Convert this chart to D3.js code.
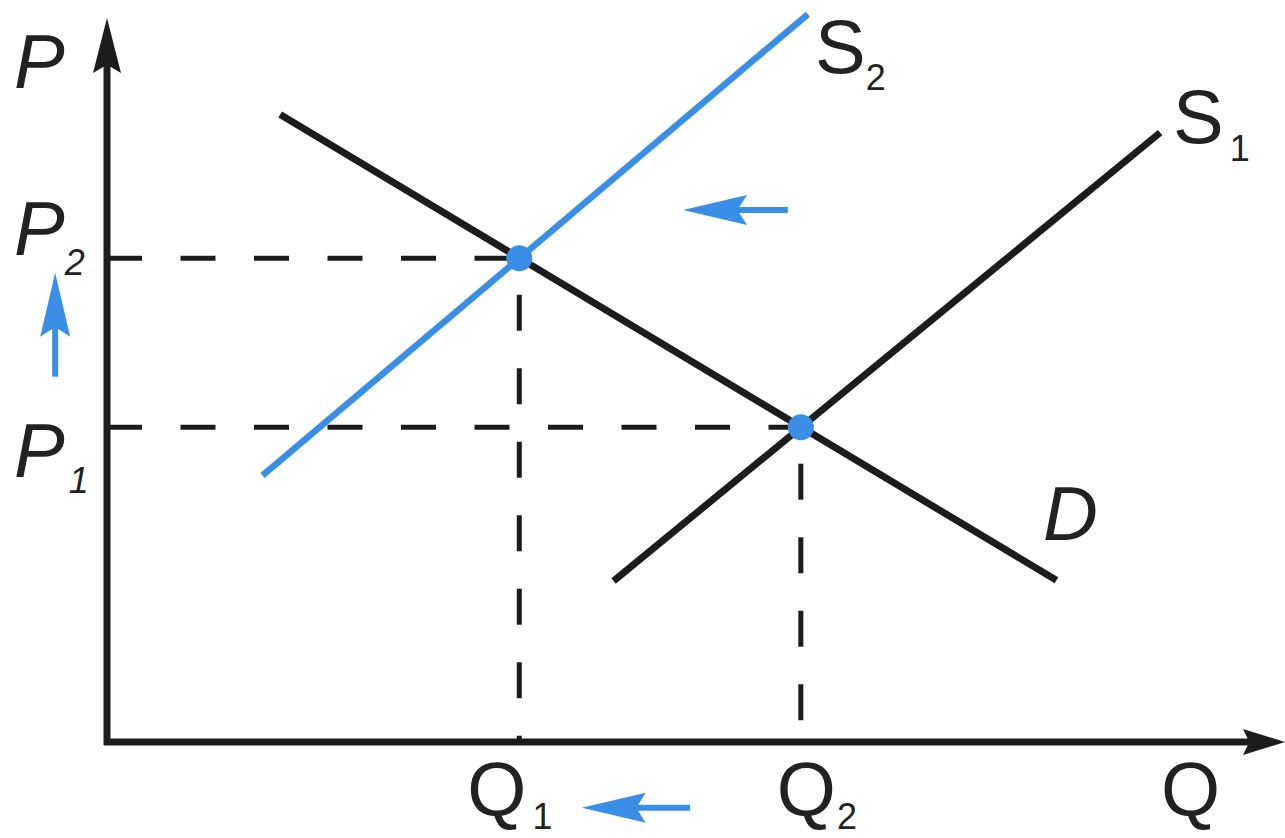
<!DOCTYPE html>
<html>
<head>
<meta charset="utf-8">
<script src="https://cdn.jsdelivr.net/npm/d3@7"></script>
<style>
  html, body { margin: 0; padding: 0; background: #fff; }
  svg { display: block; }
  text { font-family: "Liberation Sans", Arial, sans-serif; fill: #222; }
</style>
</head>
<body>
<div id="chart"></div>
<script>
// axis extents (abstract units 0..100)
const qLevels = { Q1: 35, Q2: 58.9 };
const pLevels = { P1: 43.6, P2: 67 };

// curves: [start, end] in (Q, P) units
const demand = [[14.7, 86.9], [80.6, 22.4]];
const supply1 = [[43, 22.3], [89.4, 84.4]];
const supply2 = [[13.2, 36.9], [59.5, 100.8]];

const equilibria = [[qLevels.Q1, pLevels.P2], [qLevels.Q2, pLevels.P1]];

// shift arrows: [from, to]
const shiftArrows = [
  [[57.8, 73.7], [48.9, 73.7]],   // supply shifts left
  [[49.5, -9.1], [40.3, -9.1]],   // quantity falls
  [[-4.4, 50.6], [-4.4, 65.0]]    // price rises
];

const width = 1285, height = 838;
const origin = { x: 107, y: 742 };

const x = d3.scaleLinear().domain([0, 100]).range([origin.x, 1285]);
const y = d3.scaleLinear().domain([0, 100]).range([origin.y, 20]);

const black = "#1c1c1c";
const blue = "#3b8ee6";

const svg = d3.select("#chart")
  .append("svg")
  .attr("width", width)
  .attr("height", height);

const line = d3.line().x(d => x(d[0])).y(d => y(d[1]));

// dashed guides
const hGuides = [[qLevels.Q1, pLevels.P2], [qLevels.Q2, pLevels.P1]];
svg.append("g")
  .selectAll("line")
  .data(hGuides)
  .join("line")
  .attr("x1", x(0))
  .attr("x2", d => x(d[0]))
  .attr("y1", d => y(d[1]))
  .attr("y2", d => y(d[1]))
  .attr("stroke", black)
  .attr("stroke-width", 5)
  .attr("stroke-dasharray", "35,38.5");

svg.append("g")
  .selectAll("line")
  .data(hGuides)
  .join("line")
  .attr("x1", d => x(d[0]))
  .attr("x2", d => x(d[0]))
  .attr("y1", d => y(d[1]))
  .attr("y2", y(0))
  .attr("stroke", black)
  .attr("stroke-width", 5)
  .attr("stroke-dasharray", "36,37.5")
  .attr("stroke-dashoffset", 37);

// arrow head shape with a slightly notched back
const arrowHead = (tip, dir, len, half) => {
  const [tx, ty] = tip;
  const [dx, dy] = dir;
  const px = -dy, py = dx;
  const p = d3.path();
  p.moveTo(tx, ty);
  p.lineTo(tx - dx * len + px * half, ty - dy * len + py * half);
  p.lineTo(tx - dx * len * 0.85, ty - dy * len * 0.85);
  p.lineTo(tx - dx * len - px * half, ty - dy * len - py * half);
  p.closePath();
  return p.toString();
};

// axes
svg.append("line")
  .attr("x1", x(0)).attr("y1", y(0) + 3)
  .attr("x2", x(0)).attr("y2", 40)
  .attr("stroke", black).attr("stroke-width", 7);
svg.append("path")
  .attr("d", arrowHead([x(0), 18], [0, -1], 55, 14))
  .attr("fill", black);

svg.append("line")
  .attr("x1", x(0) - 3).attr("y1", y(0))
  .attr("x2", 1260).attr("y2", y(0))
  .attr("stroke", black).attr("stroke-width", 7);
svg.append("path")
  .attr("d", arrowHead([1285, y(0)], [1, 0], 42, 13))
  .attr("fill", black);

// curves
svg.append("path").attr("d", line(demand))
  .attr("stroke", black).attr("stroke-width", 7).attr("fill", "none");
svg.append("path").attr("d", line(supply1))
  .attr("stroke", black).attr("stroke-width", 7).attr("fill", "none");
svg.append("path").attr("d", line(supply2))
  .attr("stroke", blue).attr("stroke-width", 6.5).attr("fill", "none");

// equilibrium points
svg.append("g")
  .selectAll("circle")
  .data(equilibria)
  .join("circle")
  .attr("cx", d => x(d[0]))
  .attr("cy", d => y(d[1]))
  .attr("r", 13)
  .attr("fill", blue);

// blue shift arrows
shiftArrows.forEach(([from, to]) => {
  const x0 = x(from[0]), y0 = y(from[1]), x1 = x(to[0]), y1 = y(to[1]);
  const len = Math.hypot(x1 - x0, y1 - y0);
  const dir = [(x1 - x0) / len, (y1 - y0) / len];
  svg.append("line")
    .attr("x1", x0).attr("y1", y0)
    .attr("x2", x1 - dir[0] * 40).attr("y2", y1 - dir[1] * 40)
    .attr("stroke", blue).attr("stroke-width", 6);
  svg.append("path")
    .attr("d", arrowHead([x1, y1], dir, 64, 15))
    .attr("fill", blue);
});

// labels
const bigSize = 76, subSize = 36;

function label(px, py, main, sub, italic, subDx, subDy) {
  const t = svg.append("text")
    .attr("x", px).attr("y", py)
    .style("font-size", bigSize + "px")
    .style("font-style", italic ? "italic" : "normal")
    .text(main);
  if (sub) {
    t.append("tspan")
      .attr("dx", subDx).attr("dy", subDy)
      .style("font-size", subSize + "px")
      .text(sub);
  }
}

label(14, 88, "P", null, true);
label(14, y(pLevels.P2) - 3, "P", "2", true, 0, 20);
label(14, y(pLevels.P1) + 50, "P", "1", true, 4, 16);
label(x(qLevels.Q1) - 52, 815, "Q", "1", false, 6, 14);
label(x(qLevels.Q2) - 24, 815, "Q", "2", false, 1, 14);
label(1161, 815, "Q", null, false);
label(815, 73, "S", "2", false, 0, 17);
label(1173, 143, "S", "1", false, 6, 18);
label(1043, 540, "D", null, true);
</script>
</body>
</html>
